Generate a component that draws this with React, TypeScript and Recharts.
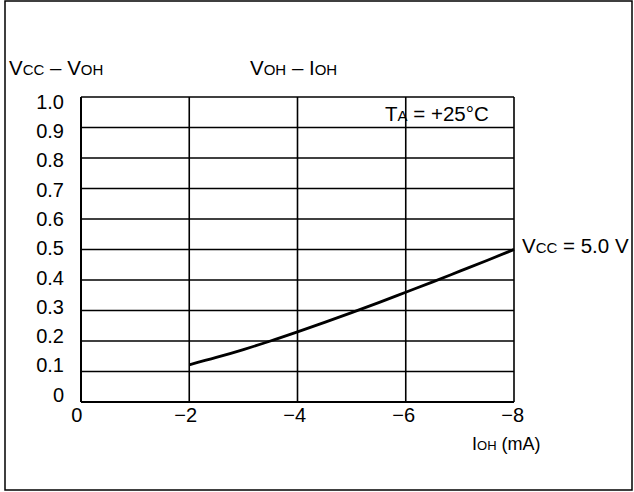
import { LineChart, Line, XAxis, YAxis, CartesianGrid } from 'recharts';

const currentMa = [-2, -2.5, -3, -3.5, -4, -4.5, -5, -5.5, -6, -6.5, -7, -7.5, -8];
const dropV = [0.122, 0.146, 0.172, 0.2, 0.23, 0.261, 0.293, 0.326, 0.36, 0.394, 0.429, 0.464, 0.5];
const xTicks = [0, -2, -4, -6, -8];
const yTicks = [0, 0.1, 0.2, 0.3, 0.4, 0.5, 0.6, 0.7, 0.8, 0.9, 1.0];

const data = currentMa.map((i, k) => ({ i, v: dropV[k] }));

const FONT = '"Liberation Sans", Arial, sans-serif';

function YTick({ y, payload }: any) {
  const v = payload.value as number;
  // labels sit a little off their grid lines in the original
  const dy = 4.7 - 12 * (1 - v) + 7;
  return (
    <text x={64} y={y + dy} textAnchor="end" fontFamily={FONT} fontSize={20} fill="#000">
      {v === 0 ? '0' : v.toFixed(1)}
    </text>
  );
}

function XTick({ x, payload }: any) {
  const v = payload.value as number;
  const k = Math.abs(v) / 2;
  const label = v === 0 ? '0' : `\u2212${Math.abs(v)}`;
  return (
    <text x={x - 4.3 + k * 0.75} y={422} textAnchor="middle" fontFamily={FONT} fontSize={20} fill="#000">
      {label}
    </text>
  );
}

function Sub({ children, size = 15 }: { children: string; size?: number }) {
  return <tspan fontSize={size}>{children}</tspan>;
}

export default function App() {
  return (
    <div style={{ position: 'relative', width: 634, height: 492, background: '#fff' }}>
      <style>{'body{margin:0}'}</style>
      <LineChart width={634} height={492} data={data} margin={{ top: 97, right: 120, bottom: 60, left: 0 }}>
        <CartesianGrid stroke="#000" strokeWidth={1.6} fill="none" />
        <XAxis
          dataKey="i"
          type="number"
          domain={[-8, 0]}
          reversed
          ticks={xTicks}
          height={30}
          tickLine={false}
          axisLine={{ stroke: '#000', strokeWidth: 2 }}
          tick={<XTick />}
        />
        <YAxis
          type="number"
          domain={[0, 1]}
          ticks={yTicks}
          width={81}
          tickLine={false}
          axisLine={{ stroke: '#000', strokeWidth: 2 }}
          tick={<YTick />}
        />
        <Line dataKey="v" type="monotone" stroke="#000" strokeWidth={2.8} dot={false} isAnimationActive={false} />
      </LineChart>
      <svg width={634} height={492} style={{ position: 'absolute', left: 0, top: 0, pointerEvents: 'none' }}>
        <rect x={5} y={1} width={627} height={489} fill="none" stroke="#000" strokeWidth={1.5} />
        <g fontFamily={FONT} fontSize={20.5} fill="#000">
          <text x={9} y={75}>V<Sub>CC</Sub> – V<Sub>OH</Sub></text>
          <text x={250} y={75}>V<Sub>OH</Sub> – I<Sub>OH</Sub></text>
          <text x={385} y={121}>T<Sub>A</Sub> = +25°C</text>
          <text x={522} y={253}>V<Sub>CC</Sub> = 5.0 V</text>
          <text x={472} y={450} fontSize={18}>I<Sub size={13}>OH</Sub> (mA)</text>
        </g>
      </svg>
    </div>
  );
}
